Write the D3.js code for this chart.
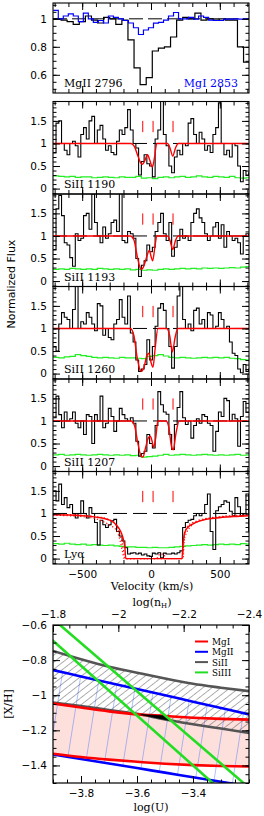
<!DOCTYPE html>
<html>
<head>
<meta charset="utf-8">
<script src="https://cdn.jsdelivr.net/npm/d3@7"></script>
<style>
body { margin: 0; background: #fff; }
</style>
</head>
<body>
<div id="chart"></div>
<script>
// ---- spectra data (flux per pixel, left edge velocity grid) ----
var gridV0 = -710, gridDv = 20;      // SiII and Lya pixels
var errV0 = -710, errDv = 40;        // error arrays

var mg2V0 = -742, mg2Dv = 44.2;
var mg2Flux = [1.0,1.0,0.99,0.98,0.96,0.98,1.02,0.99,0.97,1.01,1.0,0.96,0.99,0.85,0.65,0.53,0.58,0.77,0.79,0.80,0.87,0.99,1.01,1.0,1.04,0.99,1.0,0.99,1.0,0.99,0.99,0.80,0.69];
var mg1V0 = -710, mg1Dv = 36.4;
var mg1Flux = [1.06,1.0,1.02,1.036,1.02,0.98,1.04,1.0,0.974,0.988,0.97,1.02,1.01,1.0,0.988,0.97,0.936,0.888,0.92,0.936,0.969,0.974,0.99,1.02,1.045,1.0,1.0,1.01,0.998,1.02,1.01,0.99,0.988,0.988,0.998,0.998,1.0,0.998,1.0];

var si1190Flux = [0.8,1.45,1.5,1.0,0.85,0.75,1.0,1.05,0.95,0.7,
  1.2,1.35,1.1,1.5,1.6,1.0,1.3,1.4,1.1,0.85,
  0.95,0.8,0.75,1.05,1.3,1.2,1.35,1.75,1.3,1.0,
  0.9,0.3,0.6,0.75,0.55,0.5,0.26,1.1,1.3,1.93,
  1.2,0.95,0.5,0.35,0.7,0.85,0.75,1.0,0.95,1.45,
  1.55,1.2,1.0,1.25,1.1,0.85,0.95,0.8,1.2,1.35,
  1.9,1.0,0.75,0.85,0.7,1.0,0.95,0.5,0.15,0.4,
  0.3,0.35];
var si1193Flux = [0.7,1.6,1.9,1.45,0.85,0.8,0.52,0.33,1.05,0.9,
  0.95,1.45,1.5,1.15,1.93,1.3,1.0,0.85,1.2,0.95,
  1.05,1.3,1.35,1.1,1.95,0.9,0.85,1.1,1.05,0.95,
  0.5,0.1,0.35,0.45,0.8,0.65,0.75,1.1,1.3,1.5,
  1.05,0.9,1.3,0.55,0.75,0.9,1.15,0.95,1.0,0.9,
  1.3,1.5,1.6,1.4,1.3,1.05,0.9,1.0,1.2,1.3,
  0.95,1.25,0.75,1.1,1.0,0.9,0.95,0.85,0.6,1.0,
  1.05,1.0];
var si1260Flux = [0.6,0.5,1.1,1.35,1.25,1.2,1.0,1.42,1.94,1.0,
  1.15,1.1,1.35,1.25,1.1,0.95,1.55,1.5,0.85,1.0,
  0.8,0.75,1.1,1.2,1.64,1.25,1.1,1.72,0.9,0.7,
  0.3,0.05,0.1,0.2,0.75,0.3,0.6,1.05,1.45,1.55,
  1.4,1.0,0.6,0.12,0.6,1.72,1.94,1.2,1.0,1.1,
  0.95,1.4,1.45,1.1,1.2,1.0,1.35,1.3,1.0,1.05,
  1.35,1.2,1.0,1.05,0.7,0.45,0.4,0.1,0.02,0.2,
  0.05,0.1];
var si1207Flux = [1.07,1.55,1.14,0.85,1.2,1.0,1.05,1.2,0.95,0.85,
  1.0,0.7,1.14,1.1,0.5,1.14,1.0,1.55,0.85,0.95,
  1.28,1.1,0.77,1.0,1.28,1.14,1.05,1.0,1.07,0.95,
  0.55,0.22,0.28,0.33,0.7,0.5,0.4,0.9,1.65,1.36,
  1.2,1.15,0.7,0.37,0.92,1.3,1.65,1.07,0.92,1.0,
  0.62,0.9,1.05,0.95,1.14,1.1,0.95,0.9,0.33,0.77,
  1.2,1.1,1.5,1.45,1.0,1.15,1.05,0.44,1.1,1.43,
  1.2,1.2];
var lyaFlux = [1.5,1.28,1.65,1.2,1.35,1.13,1.2,1.0,0.9,1.0,
  1.28,1.0,0.9,1.13,1.0,0.8,0.3,0.85,0.75,0.69,
  0.75,0.84,0.87,0.6,0.5,0.39,0.24,0.1,0.12,0.13,
  0.1,0.12,0.08,0.1,0.06,0.05,0.12,0.1,0.13,0.02,
  0.12,0.1,0.1,0.12,0.1,0.13,0.17,0.69,0.8,0.85,
  0.87,0.95,1.0,0.95,1.0,1.2,1.43,0.6,0.2,1.06,
  1.15,1.2,1.28,1.25,1.05,0.95,1.35,1.15,0.95,1.0,
  1.43,0.6];

var si1190Err = [0.28,0.27,0.26,0.27,0.25,0.26,0.26,0.24,0.25,0.26,0.25,0.24,0.26,0.25,0.25,0.27,0.23,0.24,0.22,0.25,0.26,0.24,0.26,0.27,0.25,0.26,0.28,0.26,0.25,0.27,0.26,0.25,0.27,0.24,0.23,0.24];
var si1193Err = [0.26,0.27,0.26,0.28,0.27,0.26,0.27,0.26,0.28,0.27,0.26,0.27,0.26,0.27,0.25,0.26,0.24,0.25,0.24,0.26,0.27,0.26,0.27,0.28,0.27,0.28,0.27,0.29,0.28,0.29,0.28,0.29,0.3,0.29,0.31,0.32];
var si1260Err = [0.36,0.35,0.37,0.38,0.42,0.4,0.38,0.36,0.35,0.36,0.35,0.34,0.36,0.35,0.35,0.34,0.33,0.38,0.4,0.42,0.39,0.36,0.35,0.36,0.35,0.34,0.35,0.36,0.35,0.36,0.35,0.36,0.34,0.33,0.31,0.3];
var si1207Err = [0.25,0.26,0.24,0.25,0.26,0.25,0.24,0.25,0.26,0.25,0.24,0.25,0.24,0.25,0.23,0.24,0.2,0.21,0.22,0.24,0.26,0.24,0.25,0.26,0.25,0.24,0.25,0.26,0.25,0.24,0.25,0.24,0.25,0.26,0.24,0.25];
var lyaErr = [0.33,0.32,0.34,0.32,0.31,0.32,0.3,0.31,0.3,0.29,0.3,0.28,0.27,0.26,0.26,0.25,0.25,0.24,0.25,0.24,0.24,0.25,0.26,0.27,0.28,0.29,0.3,0.31,0.3,0.31,0.32,0.31,0.32,0.31,0.33,0.32];

// model fits (velocity knots, normalized flux)
var m1190V = [-712,-145,-120,-95,-75,-62,-45,-25,-8,10,25,42,120,138,158,178,198,712];
var m1190F = [1,1,0.93,0.72,0.57,0.54,0.62,0.75,0.62,0.48,0.68,1,1,0.9,0.72,0.9,1,1];
var m1193V = [-712,-150,-125,-100,-80,-68,-50,-30,-12,0,12,28,42,120,138,158,178,198,712];
var m1193F = [1,1,0.92,0.55,0.3,0.26,0.35,0.55,0.68,0.55,0.45,0.75,1,1,0.9,0.7,0.9,1,1];
var m1260V = [-712,-150,-125,-100,-80,-68,-50,-30,-15,0,14,30,50,115,135,155,175,195,712];
var m1260F = [1,1,0.85,0.35,0.08,0.05,0.15,0.4,0.45,0.25,0.14,0.55,1,1,0.85,0.48,0.8,1,1];
var m1207V = [-712,-145,-120,-95,-72,-58,-40,-20,-5,8,20,34,50,110,130,148,162,180,205,712];
var m1207F = [1,1,0.9,0.5,0.22,0.2,0.4,0.62,0.66,0.55,0.42,0.62,1,1,0.85,0.45,0.36,0.7,1,1];
var lyaV = [-712,-600,-500,-400,-300,-250,-220,-200,-190,-183,225,232,245,270,306,350,400,476,600,712];
var lyaF = [0.97,0.965,0.95,0.92,0.85,0.74,0.6,0.42,0.25,0,0,0.3,0.58,0.7,0.77,0.83,0.87,0.9,0.93,0.95];
var lyaD1V = [-712,-500,-400,-300,-250,-225,-205,-195,40,65,90,110,228,240,255,285,355,450,712];
var lyaD1F = [0.96,0.93,0.88,0.74,0.62,0.4,0.12,0,0,0.1,0.1,0,0,0.4,0.55,0.7,0.84,0.9,0.96];
var lyaD2V = [-712,-500,-400,-320,-270,-235,-210,-195,-188,232,245,265,320,420,712];
var lyaD2F = [0.98,0.96,0.93,0.88,0.8,0.62,0.35,0.1,0,0,0.55,0.72,0.82,0.9,0.97];

var compV = [-60, 15, 160];

// ---- photoionization constraints ----
var logU = [-3.9,-3.8,-3.7,-3.6,-3.5,-3.4,-3.3,-3.2];
var siIIHi = [-0.748,-0.795,-0.838,-0.872,-0.905,-0.935,-0.957,-0.977];
var siIILo = [-1.042,-1.062,-1.084,-1.106,-1.138,-1.165,-1.19,-1.215];
var mgIIHi = [-0.857,-0.893,-0.929,-0.965,-1.0,-1.037,-1.073,-1.109];
var mgIILo = [-1.337,-1.363,-1.389,-1.415,-1.441,-1.467,-1.493,-1.519];
var mgIHi = [-1.047,-1.07,-1.092,-1.109,-1.118,-1.128,-1.135,-1.139];
var mgILo = [-1.333,-1.352,-1.367,-1.379,-1.39,-1.398,-1.403,-1.406];
var siIIIU = [-3.95,-3.2];
var siIIILo = [-0.619,-1.684];
var siIIIHi = [-0.497,-1.527];

var legendNames = ["MgI","MgII","SiII","SiIII"];
var legendColors = ["#ff0000","#0000ff","#555555","#22dd22"];

// ---- layout ----
var L = 53, R = 249;
var numFont = "DejaVu Sans", txtFont = "DejaVu Serif";
var fmt = d3.format("~g");

var svg = d3.select("#chart").append("svg")
    .attr("width", 264)
    .attr("height", 816);
var defs = svg.append("defs");

var x = d3.scaleLinear().domain([-712, 712]).range([L, R]);

function stepPts(v0, dv, vals) {
  var pts = vals.map(function(f, i) { return [v0 + i * dv, f]; });
  pts.push([v0 + vals.length * dv, vals[vals.length - 1]]);
  return pts;
}
function knots(vs, fs) {
  return vs.map(function(v, i) { return [v, fs[i]]; });
}

function styleText(sel) {
  sel.selectAll("text")
    .attr("font-family", numFont)
    .attr("font-size", "10.5px")
    .attr("fill", "#000");
}

function addAxis(g, axisFn, scale, vals, size, tx, ty, labels, pad) {
  var ax = axisFn(scale).tickValues(vals).tickSize(-size).tickPadding(pad || 6);
  if (!labels) ax.tickFormat("");
  else ax.tickFormat(fmt);
  var a = g.append("g")
    .attr("transform", "translate(" + tx + "," + ty + ")")
    .call(ax);
  a.select(".domain").remove();
  a.selectAll("line").attr("stroke", "#000").attr("stroke-width", 1);
  styleText(a);
  return a;
}

var panels = [
  {top: 3, bottom: 93, dom: [0.47, 1.113], major: [0.6, 0.8, 1], minor: d3.range(0.5, 1.11, 0.05), mg: true, label: "MgII 2796"},
  {top: 101.5, bottom: 194, dom: [-0.12, 1.93], flux: si1190Flux, err: si1190Err, mV: m1190V, mF: m1190F, label: "SiII 1190"},
  {top: 194, bottom: 286.5, dom: [-0.12, 1.93], flux: si1193Flux, err: si1193Err, mV: m1193V, mF: m1193F, label: "SiII 1193"},
  {top: 286.5, bottom: 379, dom: [-0.12, 1.93], flux: si1260Flux, err: si1260Err, mV: m1260V, mF: m1260F, label: "SiII 1260"},
  {top: 379, bottom: 471.5, dom: [-0.12, 1.93], flux: si1207Flux, err: si1207Err, mV: m1207V, mF: m1207F, label: "SiII 1207"},
  {top: 471.5, bottom: 564, dom: [-0.12, 1.93], flux: lyaFlux, err: lyaErr, mV: lyaV, mF: lyaF, lya: true, label: "Lyα"}
];

panels.forEach(function(p, i) {
  var y = d3.scaleLinear().domain(p.dom).range([p.bottom, p.top]);
  var line = d3.line().x(function(d) { return x(d[0]); }).y(function(d) { return y(d[1]); });
  var stepLine = d3.line().curve(d3.curveStepAfter).x(function(d) { return x(d[0]); }).y(function(d) { return y(d[1]); });
  var smooth = d3.line().curve(d3.curveMonotoneX).x(function(d) { return x(d[0]); }).y(function(d) { return y(d[1]); });

  defs.append("clipPath").attr("id", "clip" + i)
    .append("rect").attr("x", L).attr("y", p.top).attr("width", R - L).attr("height", p.bottom - p.top);

  var g = svg.append("g");
  var plot = g.append("g").attr("clip-path", "url(#clip" + i + ")");

  if (p.mg) {
    plot.append("path").attr("d", line([[-712, 1], [712, 1]]))
      .attr("fill", "none").attr("stroke", "#000").attr("stroke-width", 1).attr("stroke-dasharray", "14,5");
    plot.append("path").attr("d", stepLine(stepPts(mg2V0, mg2Dv, mg2Flux)))
      .attr("fill", "none").attr("stroke", "#000").attr("stroke-width", 1.2);
    plot.append("path").attr("d", stepLine(stepPts(mg1V0, mg1Dv, mg1Flux)))
      .attr("fill", "none").attr("stroke", "#0000ff").attr("stroke-width", 1.2);
  } else {
    plot.append("path").attr("d", stepLine(stepPts(errV0, errDv, p.err)))
      .attr("fill", "none").attr("stroke", "#22ee22").attr("stroke-width", 1.2);
    plot.append("path").attr("d", line([[-712, 1], [712, 1]]))
      .attr("fill", "none").attr("stroke", "#000").attr("stroke-width", 1).attr("stroke-dasharray", "14,6");
    plot.append("path").attr("d", stepLine(stepPts(gridV0, gridDv, p.flux)))
      .attr("fill", "none").attr("stroke", "#000").attr("stroke-width", 1.1);
    if (p.lya) {
      [knots(lyaD1V, lyaD1F), knots(lyaD2V, lyaD2F)].forEach(function(k) {
        plot.append("path").attr("d", smooth(k))
          .attr("fill", "none").attr("stroke", "#ff0000").attr("stroke-width", 1.2).attr("stroke-dasharray", "1.2,2.2");
      });
    }
    plot.append("path").attr("d", smooth(knots(p.mV, p.mF)))
      .attr("fill", "none").attr("stroke", "#ff0000").attr("stroke-width", 1.4);
    plot.selectAll(".comp").data(compV).enter().append("line")
      .attr("x1", function(d) { return x(d); }).attr("x2", function(d) { return x(d); })
      .attr("y1", y(1.25)).attr("y2", y(1.5))
      .attr("stroke", "#ff0000").attr("stroke-width", 1);
  }

  // ticks
  var yMajor = p.major || [0, 0.5, 1, 1.5];
  var yMinor = p.minor || d3.range(-0.1, 1.91, 0.1);
  addAxis(g, d3.axisLeft, y, yMajor, 7, L, 0, true, 6);
  addAxis(g, d3.axisLeft, y, yMinor, 3.5, L, 0, false);
  addAxis(g, d3.axisRight, y, yMajor, 7, R, 0, false);
  addAxis(g, d3.axisRight, y, yMinor, 3.5, R, 0, false);
  addAxis(g, d3.axisBottom, x, [-500, 0, 500], 7, 0, p.bottom, i === 5, 7);
  addAxis(g, d3.axisBottom, x, d3.range(-700, 701, 100), 4, 0, p.bottom, false);
  addAxis(g, d3.axisTop, x, [-500, 0, 500], 7, 0, p.top, false);
  addAxis(g, d3.axisTop, x, d3.range(-700, 701, 100), 4, 0, p.top, false);

  g.append("rect").attr("x", L).attr("y", p.top).attr("width", R - L).attr("height", p.bottom - p.top)
    .attr("fill", "none").attr("stroke", "#000").attr("stroke-width", 1.1);

  g.append("text").attr("x", 64).attr("y", p.bottom - 6)
    .attr("font-family", txtFont).attr("font-size", "11px").attr("fill", "#000")
    .text(p.label);
  if (p.mg) {
    g.append("text").attr("x", 238).attr("y", p.bottom - 6).attr("text-anchor", "end")
      .attr("font-family", txtFont).attr("font-size", "11px").attr("fill", "#0000ff")
      .text("MgI 2853");
  }
});

svg.append("text")
  .attr("transform", "translate(15,284) rotate(-90)")
  .attr("text-anchor", "middle")
  .attr("font-family", numFont).attr("font-size", "11px")
  .text("Normalized Flux");
svg.append("text")
  .attr("x", 152).attr("y", 590)
  .attr("text-anchor", "middle")
  .attr("font-family", txtFont).attr("font-size", "11px")
  .text("Velocity (km/s)");

// ---- bottom panel: [X/H] vs log(U) ----
var bT = 625, bB = 783;
var xu = d3.scaleLinear().domain([-3.9, -3.2]).range([L, R]);
var xn = d3.scaleLinear().domain([-1.8, -2.4]).range([L, R]);
var yz = d3.scaleLinear().domain([-1.5, -0.6]).range([bB, bT]);

defs.append("clipPath").attr("id", "clipB")
  .append("rect").attr("x", L).attr("y", bT).attr("width", R - L).attr("height", bB - bT);

var pg = defs.append("pattern").attr("id", "hatchGray").attr("patternUnits", "userSpaceOnUse")
  .attr("width", 5.6).attr("height", 10).attr("patternTransform", "rotate(52)");
pg.append("line").attr("x1", 0).attr("y1", 0).attr("x2", 0).attr("y2", 10)
  .attr("stroke", "#333").attr("stroke-width", 0.8);
var pb = defs.append("pattern").attr("id", "hatchBlue").attr("patternUnits", "userSpaceOnUse")
  .attr("width", 18.5).attr("height", 10).attr("patternTransform", "rotate(9)");
pb.append("line").attr("x1", 0).attr("y1", 0).attr("x2", 0).attr("y2", 10)
  .attr("stroke", "#3366ff").attr("stroke-width", 0.8);

var bg = svg.append("g");
var bp = bg.append("g").attr("clip-path", "url(#clipB)");

function band(hi, lo) {
  return logU.map(function(u, i) { return {u: u, hi: hi[i], lo: lo[i]}; });
}
var area = d3.area().curve(d3.curveMonotoneX)
  .x(function(d) { return xu(d.u); })
  .y0(function(d) { return yz(d.lo); })
  .y1(function(d) { return yz(d.hi); });
var curve = d3.line().curve(d3.curveMonotoneX)
  .x(function(d) { return xu(d[0]); })
  .y(function(d) { return yz(d[1]); });

bp.append("path").attr("d", area(band(mgIHi, mgILo))).attr("fill", "#fde0dc");
bp.append("path").attr("d", area(band(mgIIHi, mgIILo))).attr("fill", "url(#hatchBlue)");
bp.append("path").attr("d", area(band(siIIHi, siIILo))).attr("fill", "url(#hatchGray)");

function drawCurve(vals, color) {
  bp.append("path").attr("d", curve(knots(logU, vals)))
    .attr("fill", "none").attr("stroke", color).attr("stroke-width", 2.6);
}
drawCurve(siIIHi, legendColors[2]);
drawCurve(siIILo, legendColors[2]);
drawCurve(mgIIHi, legendColors[1]);
drawCurve(mgIILo, legendColors[1]);
drawCurve(mgIHi, legendColors[0]);
drawCurve(mgILo, legendColors[0]);

// region allowed by all ions
var fHi = [siIIHi, mgIIHi, mgIHi].map(function(a) { return d3.scaleLinear().domain(logU).range(a); });
var fLo = [siIILo, mgIILo, mgILo].map(function(a) { return d3.scaleLinear().domain(logU).range(a); });
var gHi = d3.scaleLinear().domain(siIIIU).range(siIIIHi);
var gLo = d3.scaleLinear().domain(siIIIU).range(siIIILo);
var allowed = d3.range(-3.9, -3.2, 0.002).map(function(u) {
  var hi = d3.min(fHi.map(function(f) { return f(u); }).concat([gHi(u)]));
  var lo = d3.max(fLo.map(function(f) { return f(u); }).concat([gLo(u)]));
  return {u: u, hi: hi, lo: lo};
}).filter(function(d) { return d.hi > d.lo; });
bp.append("path")
  .attr("d", d3.area().x(function(d) { return xu(d.u); })
    .y0(function(d) { return yz(d.lo); }).y1(function(d) { return yz(d.hi); })(allowed))
  .attr("fill", "#000").attr("stroke", "#000").attr("stroke-width", 1);

[siIIILo, siIIIHi].forEach(function(a) {
  bp.append("path").attr("d", curve(knots(siIIIU, a)))
    .attr("fill", "none").attr("stroke", legendColors[3]).attr("stroke-width", 2.6);
});

// legend
var lg = bg.append("g");
legendNames.forEach(function(n, i) {
  var ly = 641.5 + i * 10.3;
  lg.append("line").attr("x1", 195).attr("x2", 208).attr("y1", ly).attr("y2", ly)
    .attr("stroke", legendColors[i]).attr("stroke-width", 2);
  lg.append("text").attr("x", 212).attr("y", ly + 3.5)
    .attr("font-family", txtFont).attr("font-size", "8.8px").text(n);
});

// axes
addAxis(bg, d3.axisLeft, yz, [-1.4, -1.2, -1, -0.8, -0.6], 7, L, 0, true, 6);
addAxis(bg, d3.axisLeft, yz, d3.range(-1.5, -0.59, 0.05), 3.5, L, 0, false);
addAxis(bg, d3.axisRight, yz, [-1.4, -1.2, -1, -0.8, -0.6], 7, R, 0, false);
addAxis(bg, d3.axisRight, yz, d3.range(-1.5, -0.59, 0.05), 3.5, R, 0, false);
addAxis(bg, d3.axisBottom, xu, [-3.8, -3.6, -3.4], 7, 0, bB, true, 7);
addAxis(bg, d3.axisBottom, xu, d3.range(-3.9, -3.19, 0.05), 3.5, 0, bB, false);
addAxis(bg, d3.axisTop, xn, [-1.8, -2, -2.2, -2.4], 7, 0, bT, true, 7);
addAxis(bg, d3.axisTop, xn, d3.range(-2.4, -1.79, 0.05), 3.5, 0, bT, false);

bg.append("rect").attr("x", L).attr("y", bT).attr("width", R - L).attr("height", bB - bT)
  .attr("fill", "none").attr("stroke", "#000").attr("stroke-width", 1.2);

var tn = svg.append("text").attr("x", 152).attr("y", 606).attr("text-anchor", "middle")
  .attr("font-family", txtFont).attr("font-size", "11px");
tn.append("tspan").text("log(n");
tn.append("tspan").attr("font-size", "7px").attr("dy", 2).text("H");
tn.append("tspan").attr("dy", -2).text(")");

svg.append("text")
  .attr("transform", "translate(12,704) rotate(-90)")
  .attr("text-anchor", "middle")
  .attr("font-family", txtFont).attr("font-size", "11px")
  .text("[X/H]");
svg.append("text")
  .attr("x", 151).attr("y", 811).attr("text-anchor", "middle")
  .attr("font-family", txtFont).attr("font-size", "11px")
  .text("log(U)");
</script>
</body>
</html>
